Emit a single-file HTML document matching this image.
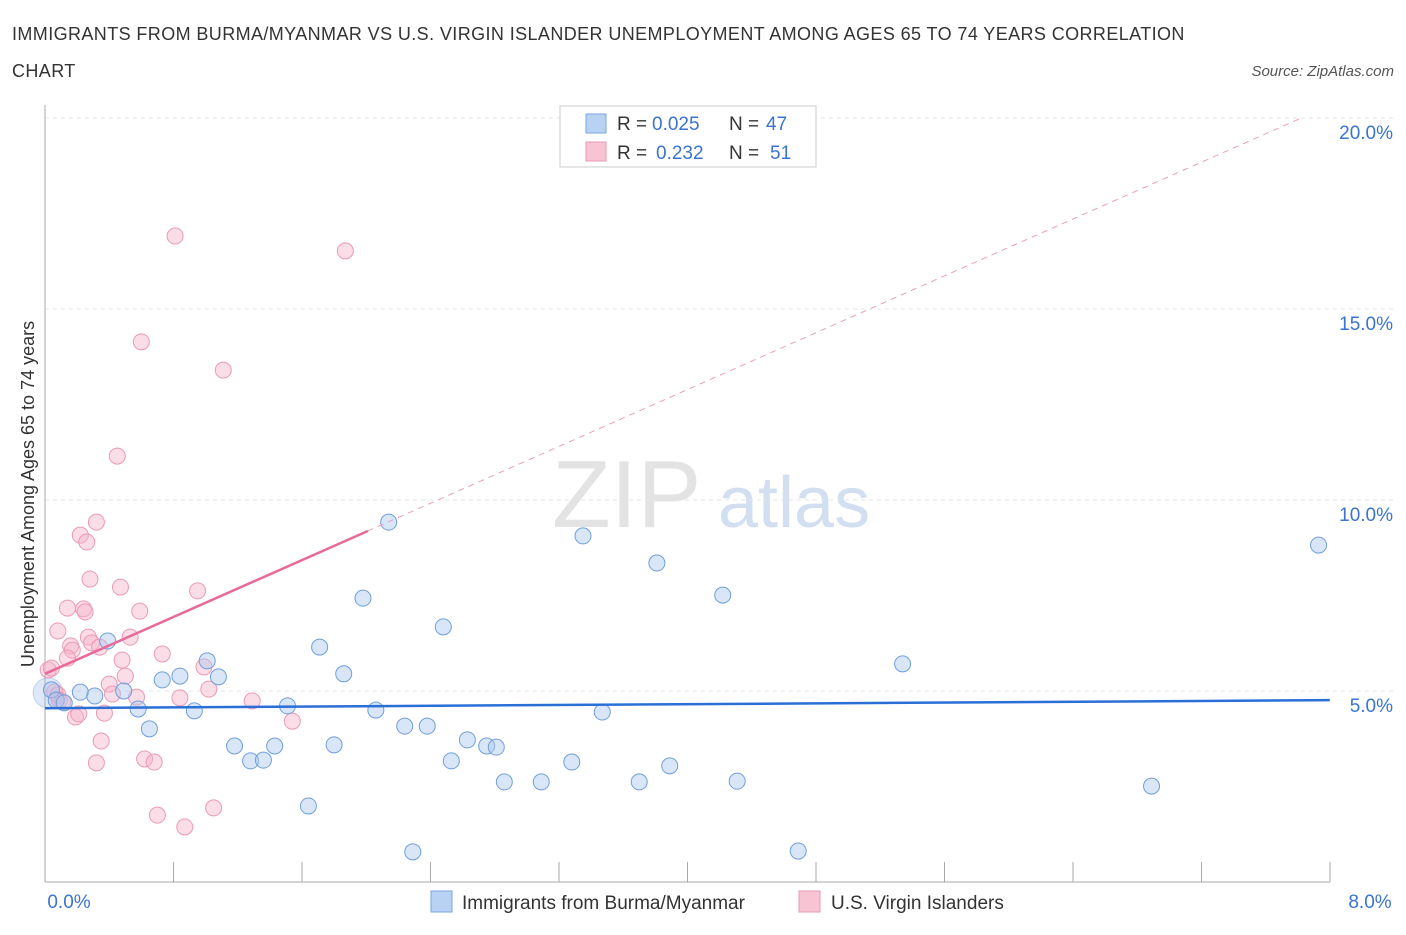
<!DOCTYPE html>
<html><head><meta charset="utf-8">
<style>
body{margin:0;background:#fff;font-family:"Liberation Sans",sans-serif;}
svg text{font-family:"Liberation Sans",sans-serif;}
</style></head>
<body>
<svg id="chart" width="1406" height="930" xmlns="http://www.w3.org/2000/svg">
<text x="12" y="40" font-size="18" fill="#333" letter-spacing="0.4">IMMIGRANTS FROM BURMA/MYANMAR VS U.S. VIRGIN ISLANDER UNEMPLOYMENT AMONG AGES 65 TO 74 YEARS CORRELATION</text>
<text x="12" y="77" font-size="18" fill="#333" letter-spacing="0.4">CHART</text>
<text x="1394" y="76" font-size="15" fill="#555" text-anchor="end" font-style="italic">Source: ZipAtlas.com</text>
<text x="552" y="527" font-size="96" fill="#ddd" font-family="Liberation Serif" opacity="0.8">ZIP</text>
<text x="718" y="527" font-size="72" fill="#c8d8ee" opacity="0.8">atlas</text>
<text transform="translate(34,494) rotate(-90)" font-size="18" fill="#333" text-anchor="middle">Unemployment Among Ages 65 to 74 years</text>
<g id="grid"></g><g id="axes"></g><g id="marks"></g>
<g>
<rect x="560" y="106" width="256" height="61" fill="#fff" stroke="#ccc"/>
<rect x="586" y="114" width="20" height="19" fill="#b8d2f4" stroke="#7aa6e0"/>
<rect x="586" y="142" width="20" height="19" fill="#f8c4d4" stroke="#e79ab4"/>
<text x="617" y="130" font-size="19" fill="#333">R =</text>
<text x="652" y="130" font-size="19" fill="#3a74d0">0.025</text>
<text x="729" y="130" font-size="19" fill="#333">N =</text>
<text x="766" y="130" font-size="19" fill="#3a74d0">47</text>
<text x="617" y="159" font-size="19" fill="#333">R =</text>
<text x="656" y="159" font-size="19" fill="#3a74d0">0.232</text>
<text x="729" y="159" font-size="19" fill="#333">N =</text>
<text x="770" y="159" font-size="19" fill="#3a74d0">51</text>
</g>
<g>
<rect x="431" y="891" width="21" height="21" fill="#b8d2f4" stroke="#7aa6e0"/>
<text x="462" y="909" font-size="19" fill="#333">Immigrants from Burma/Myanmar</text>
<rect x="799" y="891" width="21" height="21" fill="#f8c4d4" stroke="#e79ab4"/>
<text x="831" y="909" font-size="19" fill="#333">U.S. Virgin Islanders</text>
</g>
</svg>
<script>
const xTicks=[0,1,2,3,4,5,6,7,8];
const yTicks=[5,10,15,20];
const blueX=[0.04,0.07,0.12,0.22,0.31,0.39,0.49,0.58,0.65,0.73,0.84,0.93,1.01,1.08,1.18,1.28,1.36,1.43,1.51,1.64,1.71,1.80,1.86,1.98,2.06,2.14,2.24,2.29,2.38,2.48,2.53,2.63,2.75,2.81,2.86,3.09,3.28,3.35,3.47,3.70,3.81,3.89,4.22,4.31,4.69,5.34,6.89,7.93];
const blueY=[5.03,4.76,4.69,4.97,4.87,6.31,5.0,4.53,4.01,5.29,5.39,4.48,5.79,5.37,3.56,3.17,3.19,3.56,4.61,1.99,6.15,3.59,5.45,7.43,4.50,9.42,4.08,0.79,4.08,6.68,3.17,3.72,3.56,3.53,2.62,2.62,3.14,9.06,4.45,2.62,8.35,3.04,7.51,2.64,0.81,5.71,2.51,8.82];
const pinkX=[0.02,0.04,0.06,0.08,0.09,0.11,0.08,0.14,0.16,0.17,0.14,0.19,0.21,0.22,0.24,0.25,0.26,0.28,0.27,0.29,0.32,0.32,0.34,0.35,0.37,0.40,0.42,0.45,0.47,0.48,0.50,0.53,0.57,0.59,0.60,0.62,0.68,0.70,0.73,0.81,0.84,0.87,0.95,0.99,1.02,1.05,1.11,1.29,1.54,1.87];
const pinkY=[5.55,5.60,4.97,4.90,4.76,4.71,6.57,7.17,6.18,6.07,5.86,4.32,4.40,9.08,7.15,7.07,8.90,7.93,6.41,6.26,9.42,3.12,6.15,3.69,4.42,5.18,4.92,11.15,7.72,5.81,5.39,6.41,4.84,7.09,14.14,3.22,3.14,1.75,5.97,16.91,4.82,1.44,7.62,5.63,5.05,1.94,13.40,4.74,4.21,16.52];
const blueTrend=[4.55,4.76];
const pinkTrend=[5.45,1.86];
const NS="http://www.w3.org/2000/svg";
const X=v=>45+v*160.6, Y=v=>882-v*38.2;
function mk(tag,attrs,parent){const e=document.createElementNS(NS,tag);for(const k in attrs)e.setAttribute(k,attrs[k]);document.getElementById(parent).appendChild(e);return e;}
yTicks.forEach(t=>{
 const g=mk('line',{x1:45,x2:1394,y1:Y(t),y2:Y(t),stroke:'#e6e6e6','stroke-dasharray':'4,4'},'grid');
 
 
 const l=mk('text',{x:1393,y:Y(t)+21,'font-size':19,fill:'#3a74d0','text-anchor':'end'},'axes');l.textContent=t.toFixed(1)+'%';
 
 
});
const ax=mk('line',{x1:45,x2:1330,y1:882,y2:882,stroke:'#aaa'},'axes');


const ay=mk('line',{x1:45,x2:45,y1:105,y2:882,stroke:'#aaa'},'axes');


for(let i=0;i<=10;i++){const px=45+i*128.5;const t=mk('line',{x1:px,x2:px,y1:862,y2:882,stroke:'#aaa'},'axes');
 
 }
[[0,'0.0%',69],[8,'8.0%',1370]].forEach(a=>{const l=mk('text',{x:a[2],y:908,'font-size':19,fill:'#3a74d0','text-anchor':'middle'},'axes');l.textContent=a[1];
 
 });
const big=mk('circle',{cx:X(0.02),cy:Y(4.95),r:15,fill:'rgba(160,190,235,0.35)',stroke:'rgba(120,160,220,0.4)'},'marks');


pinkX.forEach((v,i)=>{const c=mk('circle',{cx:X(v),cy:Y(pinkY[i]),r:8,fill:'rgba(246,180,202,0.45)',stroke:'#eb9ab6','stroke-width':1},'marks');
 
 });
blueX.forEach((v,i)=>{const c=mk('circle',{cx:X(v),cy:Y(blueY[i]),r:8,fill:'rgba(170,200,240,0.45)',stroke:'#6f9fdc','stroke-width':1},'marks');
 
 });
const bt=mk('line',{x1:X(0),y1:Y(blueTrend[0]),x2:X(8),y2:Y(blueTrend[1]),stroke:'#2a6fd6','stroke-width':2.5},'marks');


const xe=2.01, xd=(20-pinkTrend[0])/pinkTrend[1];
const pt=mk('line',{x1:X(0),y1:Y(pinkTrend[0]),x2:X(xe),y2:Y(pinkTrend[0]+pinkTrend[1]*xe),stroke:'#e8699a','stroke-width':2.5},'marks');


const pd=mk('line',{x1:X(xe),y1:Y(pinkTrend[0]+pinkTrend[1]*xe),x2:X(xd),y2:Y(20),stroke:'#e8a0bb','stroke-width':1,'stroke-dasharray':'6,5'},'marks');


</script>
</body></html>
